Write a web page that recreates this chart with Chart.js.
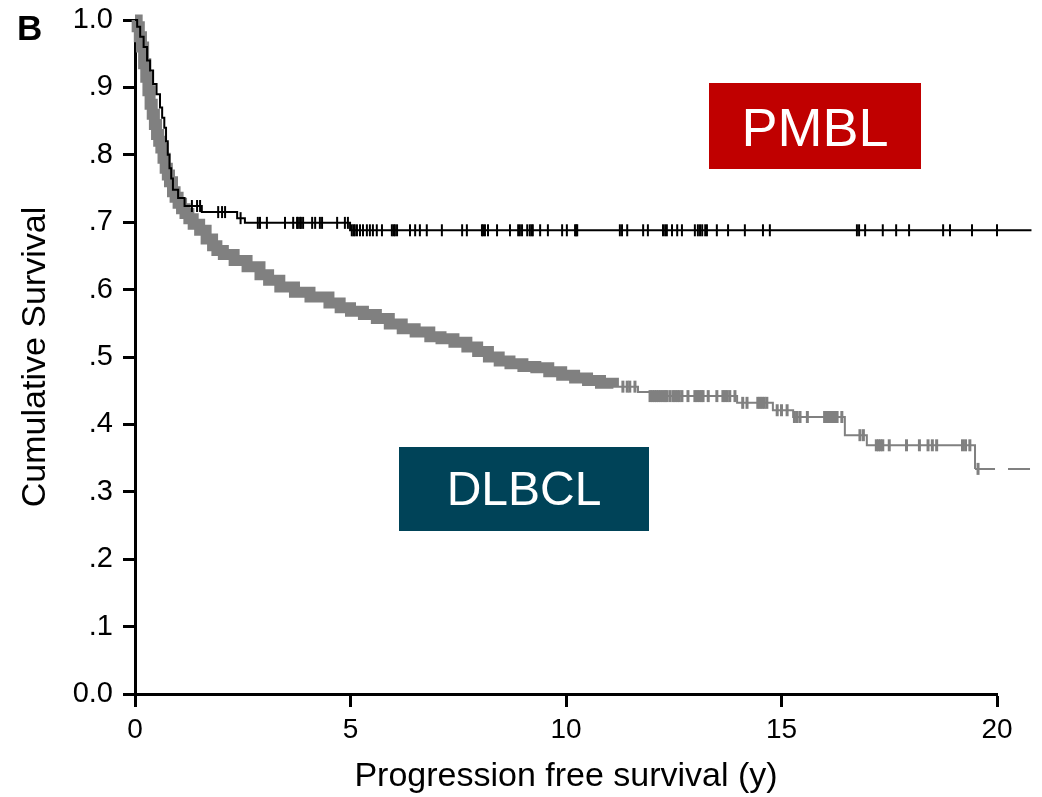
<!DOCTYPE html>
<html>
<head>
<meta charset="utf-8">
<script src="https://cdn.jsdelivr.net/npm/chart.js@4.4.1/dist/chart.umd.min.js"></script>
<style>
  html, body { margin: 0; padding: 0; background: #fff; }
  #wrap { width: 1042px; height: 797px; }
</style>
</head>
<body>
<div id="wrap"><canvas id="km-chart"></canvas></div>
<script>
// PMBL Kaplan-Meier steps (years, cumulative survival)
const pmblTimes = [0, 0.05, 0.12, 0.2, 0.28, 0.35, 0.42, 0.5, 0.58, 0.63, 0.68, 0.72, 0.76, 0.8, 0.84, 0.88, 1.0, 1.15, 1.55, 2.37, 2.55, 4.99, 20.8];
const pmblSurv = [1.0, 0.99, 0.975, 0.96, 0.94, 0.925, 0.905, 0.89, 0.87, 0.855, 0.84, 0.82, 0.80, 0.78, 0.765, 0.748, 0.736, 0.724, 0.715, 0.706, 0.699, 0.688, 0.688];
// censored PMBL patients (years)
const pmblCensored = [1.32, 1.44, 1.51, 1.93, 2.02, 2.09, 2.45, 2.85, 2.9, 3.06, 3.48, 3.67, 3.76, 3.78, 3.83, 3.85, 3.9, 4.11, 4.18, 4.29, 4.34, 4.69, 4.87, 4.94,
  5.03, 5.07, 5.1, 5.15, 5.22, 5.29, 5.38, 5.45, 5.52, 5.61, 5.73, 5.96, 6.0, 6.03, 6.08, 6.38, 6.5, 6.61, 6.77, 7.12, 7.59, 7.7, 8.05, 8.08, 8.12, 8.19, 8.4,
  8.7, 8.89, 8.93, 8.98, 9.1, 9.16, 9.2, 9.23, 9.4, 9.58, 9.91, 10.02, 10.21, 10.24, 10.26, 11.25, 11.3, 11.42, 11.79, 11.9, 12.25, 12.3, 12.34, 12.46,
  12.58, 12.69, 12.99, 13.06, 13.11, 13.16, 13.23, 13.27, 13.5, 13.76, 14.15, 14.57, 14.73, 16.75, 16.8, 16.94, 17.35, 17.66, 17.96, 18.75, 18.91, 19.42, 20.0];

// DLBCL Kaplan-Meier steps
const dlbclTimes = [0, 0.05, 0.1, 0.15, 0.2, 0.25, 0.3, 0.35, 0.4, 0.45, 0.5, 0.55, 0.6, 0.65, 0.7, 0.75, 0.8, 0.87, 0.93, 1.0,
  1.08, 1.16, 1.25, 1.35, 1.5, 1.65, 1.8, 1.9, 2.05, 2.3, 2.6, 2.9, 3.1, 3.36, 3.7, 4.06, 4.5, 4.76, 5.0, 5.3,
  5.6, 5.9, 6.2, 6.5, 6.84, 7.1, 7.4, 7.7, 7.95, 8.2, 8.45, 8.7, 9.0, 9.3, 9.6, 9.9, 10.2, 10.5, 10.8, 11.1,
  11.67, 11.95, 13.97, 14.8, 15.27, 16.47, 16.98, 19.49, 20.8];
const dlbclSurv = [1.0, 0.99, 0.975, 0.96, 0.935, 0.915, 0.895, 0.875, 0.86, 0.845, 0.83, 0.82, 0.81, 0.795, 0.78, 0.77, 0.76, 0.745, 0.737, 0.728,
  0.72, 0.713, 0.705, 0.697, 0.688, 0.675, 0.665, 0.658, 0.652, 0.643, 0.634, 0.622, 0.614, 0.604, 0.596, 0.589, 0.58, 0.573, 0.568, 0.563,
  0.557, 0.549, 0.542, 0.537, 0.53, 0.527, 0.522, 0.515, 0.508, 0.5, 0.494, 0.49, 0.486, 0.484, 0.478, 0.473, 0.469, 0.465, 0.461, 0.456,
  0.448, 0.442, 0.432, 0.421, 0.411, 0.384, 0.369, 0.334, 0.334];
// censoring is so dense up to here that the marks merge into a band
const dlbclBandEnd = 11.1;
// censored DLBCL patients after the dense part (years)
const dlbclCensored = [11.32, 11.42, 11.48, 11.6, 11.95, 12.0, 12.05, 12.1, 12.15, 12.2, 12.25, 12.3, 12.34, 12.41, 12.48, 12.53, 12.58, 12.63, 12.69,
  12.83, 12.99, 13.04, 13.09, 13.14, 13.18, 13.3, 13.5, 13.64, 13.69, 13.74, 13.8, 13.92, 14.1, 14.2, 14.45, 14.5, 14.55, 14.6, 14.66,
  14.9, 15.0, 15.13, 15.3, 15.36, 15.43, 15.6, 16.0, 16.05, 16.1, 16.15, 16.2, 16.25, 16.29, 16.4, 16.82, 16.9, 17.2, 17.25, 17.3, 17.35,
  17.5, 17.9, 18.2, 18.4, 18.5, 18.6, 19.2, 19.27, 19.37, 19.56];

const yTickLabels = ['0.0', '.1', '.2', '.3', '.4', '.5', '.6', '.7', '.8', '.9', '1.0'];

const FONT = '"Liberation Sans", Arial, sans-serif';
const GREY = '#808080';

// survival value of a step curve at time t
function survAt(times, surv, t) {
  let s = surv[0];
  for (let i = 0; i < times.length; i++) {
    if (times[i] <= t) s = surv[i];
  }
  return s;
}

const toPoints = (times, surv) => times.map((t, i) => ({ x: t, y: surv[i] }));
const censorPoints = (list, times, surv) => list.map(t => ({ x: t, y: survAt(times, surv, t) }));

const dlbclPoints = toPoints(dlbclTimes, dlbclSurv);
const bandPoints = dlbclPoints.filter(p => p.x <= dlbclBandEnd);
const lastSeg = dlbclPoints.length - 2;

// group boxes + panel letter
const annotate = {
  id: 'annotate',
  afterDraw(chart) {
    const ctx = chart.ctx;
    ctx.save();
    ctx.fillStyle = '#c00000';
    ctx.fillRect(709, 83, 212, 86);
    ctx.fillStyle = '#004358';
    ctx.fillRect(399, 447, 250, 84);

    ctx.fillStyle = '#fff';
    ctx.textAlign = 'center';
    ctx.textBaseline = 'alphabetic';
    ctx.font = '54px ' + FONT;
    ctx.fillText('PMBL', 815, 146);
    ctx.font = '48px ' + FONT;
    ctx.fillText('DLBCL', 524, 505);

    ctx.fillStyle = '#000';
    ctx.textAlign = 'left';
    ctx.font = 'bold 35px ' + FONT;
    ctx.fillText('B', 17, 40);
    ctx.restore();
  }
};

const ctx = document.getElementById('km-chart');
const kmChart = new Chart(ctx, {
  type: 'line',
  data: {
    datasets: [{
      label: 'PMBL censored',
      type: 'scatter',
      data: censorPoints(pmblCensored, pmblTimes, pmblSurv),
      pointStyle: 'line',
      rotation: 90,
      pointRadius: 6,
      pointBorderWidth: 2,
      pointBorderColor: '#000',
      clip: false
    }, {
      label: 'PMBL',
      data: toPoints(pmblTimes, pmblSurv),
      stepped: 'before',
      borderColor: '#000',
      borderWidth: 2,
      pointRadius: 0,
      fill: false,
      clip: false
    }, {
      label: 'DLBCL censored',
      type: 'scatter',
      data: censorPoints(dlbclCensored, dlbclTimes, dlbclSurv),
      pointStyle: 'line',
      rotation: 90,
      pointRadius: 6,
      pointBorderWidth: 3,
      pointBorderColor: GREY,
      clip: false
    }, {
      label: 'DLBCL',
      data: dlbclPoints,
      stepped: 'before',
      borderColor: GREY,
      borderWidth: 2,
      pointRadius: 0,
      fill: false,
      clip: false,
      segment: {
        borderDash: c => c.p0DataIndex === lastSeg ? [20, 13, 22, 13] : undefined
      }
    }, {
      label: 'DLBCL dense censoring',
      data: bandPoints,
      stepped: 'before',
      borderColor: GREY,
      borderWidth: 11,
      pointRadius: 0,
      fill: false,
      clip: false
    }]
  },
  options: {
    responsive: true,
    maintainAspectRatio: false,
    animation: false,
    layout: { padding: { top: 20, right: 45, left: 0, bottom: 0 } },
    plugins: {
      legend: { display: false },
      tooltip: { enabled: false }
    },
    scales: {
      x: {
        type: 'linear',
        min: 0,
        max: 20,
        afterFit: s => { s.height = 103; },
        ticks: {
          stepSize: 5,
          autoSkip: false,
          maxRotation: 0,
          color: '#000',
          padding: 6,
          font: { family: FONT, size: 28 }
        },
        grid: {
          display: true,
          drawOnChartArea: false,
          drawTicks: true,
          tickLength: 13,
          tickWidth: 3,
          tickColor: '#000'
        },
        border: { display: true, width: 3, color: '#000' },
        title: {
          display: true,
          text: 'Progression free survival (y)',
          color: '#000',
          padding: { top: 0, bottom: 0 },
          font: { family: FONT, size: 34 }
        }
      },
      y: {
        min: 0,
        max: 1,
        afterFit: s => { s.width = 135; s.paddingTop = 0; s.paddingBottom = 0; },
        ticks: {
          stepSize: 0.1,
          autoSkip: false,
          color: '#000',
          padding: 10,
          font: { family: FONT, size: 29 },
          callback: v => yTickLabels[Math.round(v * 10)]
        },
        grid: {
          display: true,
          drawOnChartArea: false,
          drawTicks: true,
          tickLength: 12,
          tickWidth: 3,
          tickColor: '#000'
        },
        border: { display: true, width: 3, color: '#000' },
        title: {
          display: true,
          text: 'Cumulative Survival',
          color: '#000',
          padding: { top: 15, bottom: 0 },
          font: { family: FONT, size: 34 }
        }
      }
    }
  },
  plugins: [annotate]
});
</script>
</body>
</html>
